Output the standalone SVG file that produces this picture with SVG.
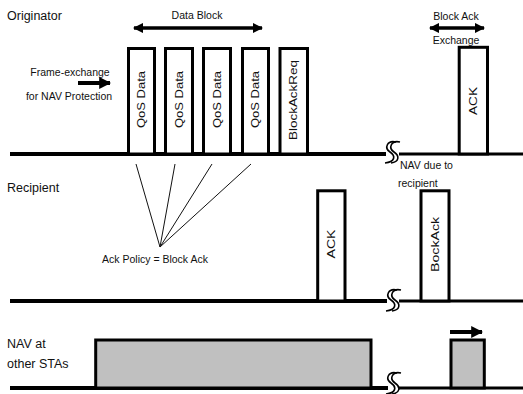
<svg xmlns="http://www.w3.org/2000/svg" width="523" height="394" viewBox="0 0 523 394">
<style>
  text { font-family: "Liberation Sans", Arial, sans-serif; fill: #111; }
  .lbl { font-size: 12.5px; }
  .sm { font-size: 10.5px; }
  .vt { font-size: 10px; text-anchor: middle; dominant-baseline: central; }
  .box { fill: #fff; stroke: #000; stroke-width: 3; }
  .nav { fill: #c0c0c0; stroke: #000; stroke-width: 3; }
  .base { stroke: #000; stroke-width: 4; fill: none; }
  .base2 { stroke: #000; stroke-width: 3; fill: none; }
  .fan { stroke: #111; stroke-width: 1; fill: none; }
  .brk { stroke: #000; stroke-width: 1.6; fill: none; }
  .thick { stroke: #000; stroke-width: 3.5; fill: none; }
</style>
<defs>
  <marker id="ah" viewBox="0 0 10 10" refX="9" refY="5" markerWidth="3" markerHeight="3" orient="auto-start-reverse" markerUnits="strokeWidth">
    <path d="M0,0 L10,5 L0,10 Z" fill="#000"/>
  </marker>
  <g id="squig">
    <path d="M6,-11 C-3,-13 -6,-5 0,-1 C6,3 5,9 -5,10" class="brk"/>
    <path d="M10,-11 C1,-13 -2,-5 4,-1 C10,3 9,9 1,10" class="brk"/>
  </g>
</defs>

<g id="labels">
  <text class="lbl" x="7" y="20">Originator</text>
  <text class="lbl" x="7" y="192">Recipient</text>
  <text class="lbl" x="7" y="348">NAV at</text>
  <text class="lbl" x="7" y="368">other STAs</text>
</g>

<g id="connectors">
  <path class="base" d="M10,154 H386"/>
  <path class="base2" d="M399,154 H523"/>
  <path class="base" d="M10,301 H387"/>
  <path class="base2" d="M399,301 H523"/>
  <path class="base" d="M10,388 H388"/>
  <path class="base2" d="M399,388 H523"/>
  <use href="#squig" x="390" y="153"/>
  <use href="#squig" x="391" y="301"/>
  <use href="#squig" x="391" y="384"/>
  <path class="thick" d="M134,28 H262" marker-start="url(#ah)" marker-end="url(#ah)"/>
  <path class="thick" d="M430,28 H484" marker-start="url(#ah)" marker-end="url(#ah)"/>
  <path d="M78,83 H110" stroke="#000" stroke-width="4" fill="none" marker-end="url(#ah)"/>
  <path d="M450,332 H482" stroke="#000" stroke-width="4" fill="none" marker-end="url(#ah)"/>
  <path class="fan" d="M136,164 L160,247 M175,164 L160,247 M212,164 L160,247 M251,164 L160,247"/>
</g>

<g id="data-block-label"><text class="sm" x="197" y="19" text-anchor="middle">Data Block</text></g>
<g id="frame-exchange-label">
  <text class="sm" x="70" y="76" text-anchor="middle">Frame-exchange</text>
  <text class="sm" x="69" y="100" text-anchor="middle">for NAV Protection</text>
</g>
<g id="block-ack-label">
  <text class="sm" x="456" y="20" text-anchor="middle">Block Ack</text>
  <text class="sm" x="456" y="44" text-anchor="middle">Exchange</text>
</g>
<g id="nav-due-label">
  <text class="sm" x="400" y="169">NAV due to</text>
  <text class="sm" x="398" y="187">recipient</text>
</g>
<g id="ack-policy-label"><text class="sm" x="155" y="263" text-anchor="middle">Ack Policy = Block Ack</text></g>

<g id="qos1">
  <rect class="box" x="128.5" y="48.5" width="26" height="105.5"/>
  <text class="vt" transform="translate(141.5,99.5) rotate(-90)" textLength="57" lengthAdjust="spacingAndGlyphs">QoS Data</text>
</g>
<g id="qos2">
  <rect class="box" x="165.5" y="48.5" width="27" height="105.5"/>
  <text class="vt" transform="translate(179,99.5) rotate(-90)" textLength="57" lengthAdjust="spacingAndGlyphs">QoS Data</text>
</g>
<g id="qos3">
  <rect class="box" x="203.5" y="48.5" width="27" height="105.5"/>
  <text class="vt" transform="translate(217,99.5) rotate(-90)" textLength="57" lengthAdjust="spacingAndGlyphs">QoS Data</text>
</g>
<g id="qos4">
  <rect class="box" x="242.5" y="48.5" width="26" height="105.5"/>
  <text class="vt" transform="translate(255.5,99.5) rotate(-90)" textLength="57" lengthAdjust="spacingAndGlyphs">QoS Data</text>
</g>
<g id="bar">
  <rect class="box" x="280" y="48.5" width="27.5" height="105.5"/>
  <text class="vt" transform="translate(293.8,100) rotate(-90)" textLength="80" lengthAdjust="spacingAndGlyphs">BlockAckReq</text>
</g>
<g id="orig-ack">
  <rect class="box" x="459.2" y="47.3" width="28.3" height="106.7"/>
  <text class="vt" transform="translate(473.4,101) rotate(-90)" textLength="28" lengthAdjust="spacingAndGlyphs">ACK</text>
</g>
<g id="rec-ack">
  <rect class="box" x="317.7" y="190.8" width="27.3" height="110.2"/>
  <text class="vt" transform="translate(331.4,244) rotate(-90)" textLength="29" lengthAdjust="spacingAndGlyphs">ACK</text>
</g>
<g id="rec-blockack">
  <rect class="box" x="421" y="190.8" width="28" height="110.2"/>
  <text class="vt" transform="translate(435,244.5) rotate(-90)" textLength="55" lengthAdjust="spacingAndGlyphs">BockAck</text>
</g>
<g id="nav-main">
  <rect class="nav" x="95.7" y="340" width="275.3" height="48"/>
</g>
<g id="nav-small">
  <rect class="nav" x="451" y="340" width="33.3" height="48"/>
</g>
</svg>
